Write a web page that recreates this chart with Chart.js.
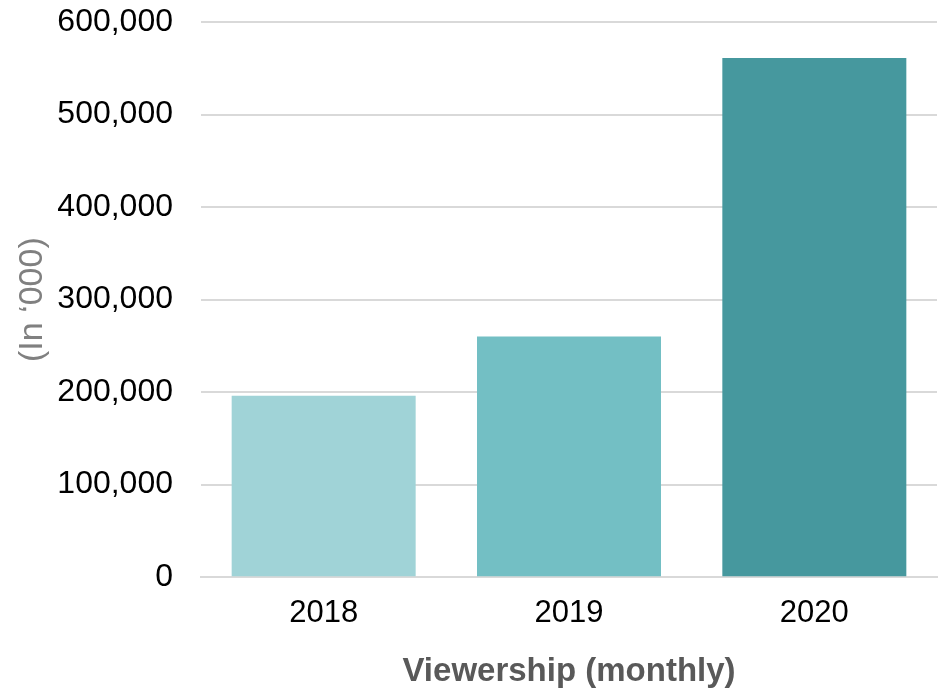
<!DOCTYPE html>
<html>
<head>
<meta charset="utf-8">
<script src="https://cdn.jsdelivr.net/npm/chart.js@4/dist/chart.umd.min.js"></script>
<style>
html,body{margin:0;padding:0;background:#fff;}
#wrap{width:944px;height:694px;}
</style>
</head>
<body>
<div id="wrap"><canvas id="c" width="944" height="694"></canvas></div>
<script>
const categories = ['2018', '2019', '2020'];
const viewership = [196000, 260000, 561000];
const barColors = ['#a0d3d7', '#73bfc4', '#46989e'];
const yTicks = [0, 100000, 200000, 300000, 400000, 500000, 600000];

const FONT = 'Liberation Sans, Arial, sans-serif';
const ctx = document.getElementById('c').getContext('2d');
new Chart(ctx, {
  type: 'bar',
  data: {
    labels: categories,
    datasets: [{
      data: viewership,
      backgroundColor: barColors,
      borderWidth: 0,
      barPercentage: 0.75,
      categoryPercentage: 1.0
    }]
  },
  options: {
    responsive: false,
    animation: false,
    devicePixelRatio: 1,
    layout: { padding: { top: 0, right: 7, bottom: 2, left: 12 } },
    plugins: { legend: { display: false }, tooltip: { enabled: false } },
    scales: {
      x: {
        grid: { display: false, drawTicks: false },
        border: { display: true, color: '#d9d9d9', width: 2 },
        ticks: { color: '#000', font: { family: FONT, size: 31 }, padding: 18 },
        title: { display: true, text: 'Viewership (monthly)', color: '#595959',
          font: { family: FONT, size: 33, weight: 'bold' }, padding: { top: 2, bottom: 0 } }
      },
      y: {
        min: 0, max: 600000,
        afterBuildTicks: (axis) => { axis.ticks = yTicks.map(v => ({ value: v })); },
        afterFit: (axis) => { axis.width = 189; axis.paddingTop = 22; },
        grid: { color: '#d9d9d9', lineWidth: 2, drawTicks: false },
        border: { display: false },
        ticks: { color: '#000', font: { family: FONT, size: 32 }, padding: 28,
          callback: (v) => Number(v).toLocaleString('en-US') },
        title: { display: true, text: '(In ‘000)', color: '#808080',
          font: { family: FONT, size: 34 }, padding: { top: 0, bottom: 0 } }
      }
    }
  }
});
</script>
</body>
</html>
